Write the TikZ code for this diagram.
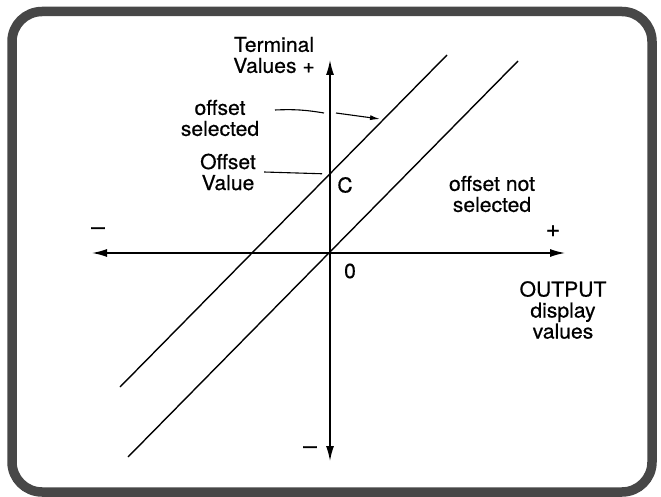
\documentclass[tikz,border=0pt]{standalone}
\usepackage{fontspec}
\setmainfont[FakeStretch=1.03,FakeBold=0.6]{TeX Gyre Heros}
\usetikzlibrary{arrows.meta,positioning,calc}

\begin{document}
\begin{tikzpicture}[x=1pt,y=-1pt,
    >={Latex[length=15pt,width=8pt]},
    frame/.style={line width=9.5pt, draw=black!72, rounded corners=30pt},
    axis/.style={line width=1.4pt, <->},
    graphline/.style={line width=1.4pt},
    leader/.style={line width=1.1pt},
    lbl/.style={font=\fontsize{20.5}{21}\selectfont, align=center, inner sep=0pt},
    sign/.style={font=\fontsize{24}{24}\selectfont, inner sep=0pt}]
    \useasboundingbox (0,0) rectangle (661,497);
    % frame
    \draw[frame] (12,11.5) rectangle (652,492);
    % axes
    \coordinate (O) at (330,253);
    \coordinate (xl) at (92,253);
    \coordinate (xr) at (565,253);
    \coordinate (yt) at (330,60);
    \coordinate (yb) at (330,461);
    \draw[axis] (xl) -- (xr);
    \draw[axis] (yb) -- (yt);
    % lines
    \coordinate (C) at (330,174);
    \coordinate (sel1) at (120,387);
    \coordinate (sel2) at (447,55);
    \coordinate (not1) at (128,457);
    \coordinate (not2) at (518,61);
    \draw[graphline] (sel1) -- (sel2);
    \draw[graphline] (not1) -- (not2);
    % labels
    \node[lbl] (term) at (274,55) {Terminal\\Values +};
    \node[lbl] (sel) at (220,118) {offset\\selected};
    \node[lbl] (offv) at (228,172) {Offset\\Value};
    \node[lbl] (notsel) at (492,194) {offset not\\selected};
    \node[lbl] (cl) at (345,185) {C};
    \node[lbl] (zero) at (350,271) {0};
    \node[lbl] (outl) at (563,310) {OUTPUT\\display\\values};
    \node[sign] (xminus) at (98,231) {–};
    \node[sign] (xplus) at (553,231) {+};
    \node[sign] (yminus) at (310,450) {–};
    % leaders
    \coordinate (selA) at (275,110);
    \coordinate (selB) at (324,113);
    \coordinate (selC) at (336,113);
    \coordinate (selD) at (380,119);
    \draw[leader] (selA) to[bend left=6] (selB);
    \draw[leader, -{Latex[length=10pt,width=5pt]}] (selC) -- (selD);
    \draw[leader, shorten >=8pt] ([xshift=8pt]offv.east) -- (C);
\end{tikzpicture}
\end{document}
